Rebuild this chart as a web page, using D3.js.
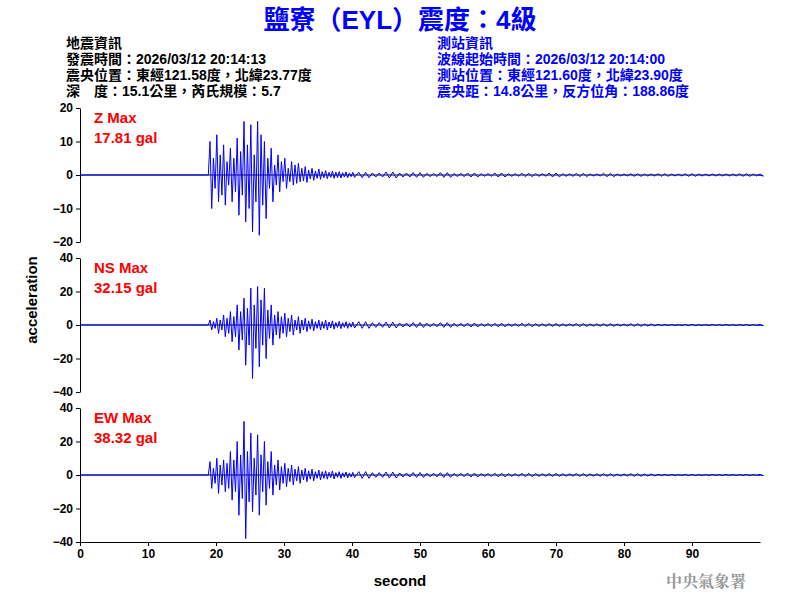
<!DOCTYPE html>
<html><head><meta charset="utf-8">
<script src="https://cdn.jsdelivr.net/npm/d3@7"></script>
<style>body{margin:0;background:#fff}</style></head>
<body><script>
// half-second peaks from 18.5s to 40s, then 2-second tail peaks from 41s to 99s
var startT = 18.5, tailStart = 41;
var zUp = [0,10,5,12,6,9,4,8,5,11,7,16,9,15,6,16,12,10,5,8,3,6,4,5,2,4,3,3.5,2,2.5,1.5,2,1.2,1.8,1,1.3,0.8,1.2,0.9,1,0.7,0.9,0.6,0.8];
var zLo = [0,-10,-4,-8,-6,-9,-3,-8,-5,-12,-6,-14,-10,-17,-8,-18,-9,-13,-4,-8,-3,-5,-2,-4,-2,-3,-2.5,-2,-1.8,-2.2,-1.2,-1.6,-1,-1.3,-0.8,-1.1,-0.7,-1,-0.8,-0.9,-0.6,-0.8,-0.5,-0.7];
var nsUp = [0,3,2,4,3,6,4,8,5,12,8,16,10,22,12,23,15,22,9,12,6,8,5,7,4,6,3,5,3,4,2.5,3.5,2,3,2,3,1.8,2.5,1.5,2.2,1.4,2,1.3,1.8];
var nsLo = [0,-3,-2,-5,-3,-7,-5,-10,-7,-15,-9,-24,-12,-32,-14,-25,-12,-20,-8,-12,-6,-8,-5,-7,-4,-6,-3,-5,-3,-4,-2.5,-3.5,-2,-3,-2,-3,-1.8,-2.5,-1.5,-2.2,-1.4,-2,-1.3,-1.8];
var ewUp = [0,8,4,10,6,9,7,14,9,20,12,32,14,25,10,24,12,20,8,14,6,9,5,7,4,6,3.5,5,3,4,2.5,3.5,2,3,2,2.5,1.6,2.4,1.4,2,1.3,1.8,1.2,1.6];
var ewLo = [0,-8,-5,-11,-6,-10,-8,-15,-10,-24,-14,-38,-16,-22,-12,-24,-10,-18,-8,-12,-6,-9,-5,-7,-4,-6,-3.5,-5,-3,-4,-2.5,-3.5,-2,-3,-2,-2.5,-1.6,-2.4,-1.4,-2,-1.3,-1.8,-1.2,-1.6];
var zTail = [0.8,0.6,0.9,0.6,0.7,0.5,0.7,0.5,0.6,0.4,0.6,0.4,0.5,0.4,0.6,0.4,0.5,0.3,0.5,0.3,0.4,0.3,0.4,0.3,0.4,0.3,0.3,0.3,0.4,0.3];
var nsTail = [2,1.4,1.8,1.2,1.5,1.1,1.4,1,1.2,0.9,1.1,0.8,1,0.8,0.9,0.7,0.9,0.7,0.8,0.6,0.8,0.6,0.4,0.3,0.4,0.3,0.3,0.3,0.3,0.3];
var ewTail = [2,1.4,1.8,1.2,1.5,1.1,1.4,1,1.2,0.9,1.1,0.8,1,0.8,0.9,0.7,0.9,0.7,0.8,0.6,0.8,0.6,0.4,0.3,0.4,0.3,0.3,0.3,0.3,0.3];
var xTicks = [0,10,20,30,40,50,60,70,80,90];

var panels = [
    {name:"Z Max", max:"17.81 gal", up:zUp, lo:zLo, tail:zTail, lim:20, ticks:[-20,-10,0,10,20], top:108},
    {name:"NS Max", max:"32.15 gal", up:nsUp, lo:nsLo, tail:nsTail, lim:40, ticks:[-40,-20,0,20,40], top:258},
    {name:"EW Max", max:"38.32 gal", up:ewUp, lo:ewLo, tail:ewTail, lim:40, ticks:[-40,-20,0,20,40], top:408}
];

var W = 800, H = 600, left = 80, right = 760, ph = 134;
var svg = d3.select("body").append("svg").attr("width", W).attr("height", H)
    .style("font-family", "Arial, 'Liberation Sans', sans-serif");

var x = d3.scaleLinear().domain([0, 100]).range([left, right]);

// header
var cjk = "'Noto Sans CJK TC', 'Noto Sans CJK SC', sans-serif";
var mixed = "'Liberation Sans', " + cjk;
svg.append("text").attr("x", 400).attr("y", 29).attr("text-anchor", "middle")
    .attr("font-size", 26).attr("font-weight", "bold").attr("fill", "#0000ff")
    .attr("font-family", mixed).text("鹽寮（EYL）震度：4級");
var leftInfo = ["地震資訊", "發震時間：2026/03/12 20:14:13",
    "震央位置：東經121.58度，北緯23.77度", "深　度：15.1公里，芮氏規模：5.7"];
var rightInfo = ["測站資訊", "波線起始時間：2026/03/12 20:14:00",
    "測站位置：東經121.60度，北緯23.90度", "震央距：14.8公里，反方位角：188.86度"];
leftInfo.forEach(function(t, i) {
    svg.append("text").attr("x", 66).attr("y", 48 + i * 16).attr("font-size", 14)
        .attr("font-weight", "bold").attr("font-family", mixed).text(t);
});
rightInfo.forEach(function(t, i) {
    svg.append("text").attr("x", 437).attr("y", 48 + i * 16).attr("font-size", 14)
        .attr("font-weight", "bold").attr("fill", "#0000ff")
        .attr("font-family", mixed).text(t);
});

panels.forEach(function(p) {
    var y = d3.scaleLinear().domain([-p.lim, p.lim]).range([p.top + ph, p.top]);
    var g = svg.append("g");
    g.append("g").attr("transform", "translate(" + left + ",0)")
        .call(d3.axisLeft(y).tickValues(p.ticks).tickSize(4).tickSizeOuter(0))
        .call(function(a) {
            a.selectAll("text").attr("font-size", 12).attr("font-weight", "bold")
                .attr("font-family", "Arial, sans-serif").attr("fill", "#000");
        });
    g.append("line").attr("x1", left).attr("x2", right)
        .attr("y1", y(0)).attr("y2", y(0)).attr("stroke", "#000").attr("stroke-width", 1);

    // zigzag waveform from peaks
    var pts = [[0, 0], [startT, 0]];
    p.up.forEach(function(v, i) {
        var t = startT + i * 0.5;
        pts.push([t + 0.12, v]);
        pts.push([t + 0.37, p.lo[i]]);
    });
    p.tail.forEach(function(v, i) {
        var t = tailStart + i * 2;
        for (var k = 0; k < 4; k++) {
            pts.push([t + k * 0.5, v * (k % 2 ? -1 : 1)]);
        }
    });
    pts.push([99.8, 0]);
    var line = d3.line().x(function(d) { return x(d[0]); })
        .y(function(d) { return y(d[1]); });
    g.append("path").attr("d", line(pts)).attr("fill", "none")
        .attr("stroke", "#0000ff").attr("stroke-width", 1);

    g.append("text").attr("x", 94).attr("y", p.top + 15).attr("fill", "#ff0000")
        .attr("font-size", 15).attr("font-weight", "bold").text(p.name);
    g.append("text").attr("x", 94).attr("y", p.top + 35).attr("fill", "#ff0000")
        .attr("font-size", 15).attr("font-weight", "bold").text(p.max);
});

// x axis
svg.append("g").attr("transform", "translate(0,542)")
    .call(d3.axisBottom(x).tickValues(xTicks).tickSize(4).tickSizeOuter(0))
    .call(function(a) {
        a.selectAll("text").attr("font-size", 12).attr("font-weight", "bold")
            .attr("font-family", "Arial, sans-serif").attr("fill", "#000");
    });

svg.append("text").attr("x", 400).attr("y", 586).attr("text-anchor", "middle")
    .attr("font-size", 15).attr("font-weight", "bold").text("second");
svg.append("text").attr("transform", "translate(37,300) rotate(-90)")
    .attr("text-anchor", "middle").attr("font-size", 15).attr("font-weight", "bold")
    .text("acceleration");
svg.append("text").attr("x", 746).attr("y", 587).attr("text-anchor", "end")
    .attr("font-size", 16).attr("font-weight", "bold").attr("fill", "#999")
    .attr("font-family", "'Noto Serif CJK TC', " + cjk).text("中央氣象署");
</script></body></html>
